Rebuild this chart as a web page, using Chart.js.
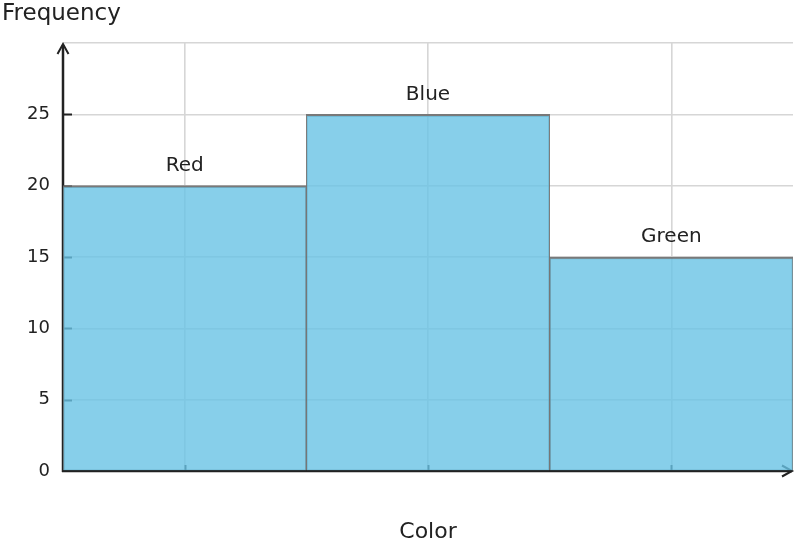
<!DOCTYPE html>
<html>
<head>
<meta charset="utf-8">
<script src="https://cdn.jsdelivr.net/npm/chart.js@4"></script>
<style>
html,body{margin:0;padding:0;background:#fff;}
#wrap{width:796px;height:548px;position:relative;}
</style>
</head>
<body>
<div id="wrap"><canvas id="c"></canvas></div>
<script>
const categories = ["Red", "Blue", "Green"];
const frequencies = [20, 25, 15];
const yTickValues = [0, 5, 10, 15, 20, 25];
const xTitle = "Color";
const yTitle = "Frequency";

const FONT = "'DejaVu Sans', sans-serif";
const INK = "#222222";

const decor = {
  id: 'decor',
  beforeDatasetsDraw(chart) {
    const {ctx, chartArea: a, scales: {x, y}} = chart;
    ctx.save();
    ctx.strokeStyle = INK;
    ctx.fillStyle = INK;
    ctx.lineWidth = 2;
    yTickValues.forEach(v => {
      if (v === 0) return;
      const py = Math.round(y.getPixelForValue(v)) + 0.5;
      ctx.beginPath(); ctx.moveTo(a.left, py); ctx.lineTo(a.left + 9, py); ctx.stroke();
    });
    categories.forEach((c, i) => {
      const px = Math.round(x.getPixelForValue(i)) + 0.5;
      ctx.beginPath(); ctx.moveTo(px, a.bottom); ctx.lineTo(px, a.bottom - 6); ctx.stroke();
    });
    ctx.lineWidth = 2.5;
    ctx.beginPath();
    ctx.moveTo(a.left, a.bottom + 1); ctx.lineTo(a.left, a.top + 2);
    ctx.moveTo(a.left - 1, a.bottom); ctx.lineTo(a.right - 1, a.bottom);
    ctx.stroke();
    ctx.lineWidth = 2;
    ctx.lineJoin = 'miter';
    ctx.beginPath();
    ctx.moveTo(a.left - 5.5, a.top + 11); ctx.lineTo(a.left, a.top + 1); ctx.lineTo(a.left + 5.5, a.top + 11);
    ctx.moveTo(a.right - 11, a.bottom - 5.5); ctx.lineTo(a.right - 1, a.bottom); ctx.lineTo(a.right - 11, a.bottom + 5.5);
    ctx.stroke();
    ctx.restore();
  },
  afterDatasetsDraw(chart) {
    const {ctx, chartArea: a} = chart;
    const meta = chart.getDatasetMeta(0);
    ctx.save();
    ctx.fillStyle = INK;
    ctx.font = "20px " + FONT;
    ctx.textAlign = 'center';
    ctx.textBaseline = 'middle';
    meta.data.forEach((bar, i) => {
      ctx.fillText(categories[i], bar.x, bar.y - 20);
    });
    ctx.font = "22px " + FONT;
    ctx.fillText(xTitle, (a.left + a.right) / 2, 532);
    ctx.font = "23px " + FONT;
    ctx.textAlign = 'left';
    ctx.fillText(yTitle, 2, 14);
    ctx.restore();
  }
};

new Chart(document.getElementById('c'), {
  type: 'bar',
  data: {
    labels: categories,
    datasets: [{
      data: frequencies,
      backgroundColor: 'rgba(105,195,229,0.8)',
      borderColor: 'rgba(110,110,110,0.9)',
      borderWidth: {top: 2, left: 1, right: 1, bottom: 0},
      borderSkipped: 'bottom',
      barPercentage: 1,
      categoryPercentage: 1
    }]
  },
  options: {
    responsive: true,
    maintainAspectRatio: false,
    animation: false,
    events: [],
    layout: {padding: {top: 43, right: 3, left: 0, bottom: 0}},
    plugins: {legend: {display: false}, tooltip: {enabled: false}, title: {display: false}},
    scales: {
      x: {
        type: 'category',
        offset: true,
        grid: {display: true, offset: false, color: '#d6d6d6', lineWidth: 1.6, drawTicks: false},
        border: {display: false},
        ticks: {display: false},
        afterFit(s) { s.height = 77; }
      },
      y: {
        min: 0, max: 30,
        grid: {color: '#d6d6d6', lineWidth: 1.6, drawTicks: false},
        border: {display: false},
        ticks: {
          stepSize: 5,
          padding: 13,
          color: INK,
          font: {family: FONT, size: 18},
          callback: v => yTickValues.includes(v) ? String(v) : ''
        },
        afterFit(s) { s.width = 63; }
      }
    }
  },
  plugins: [decor]
});
</script>
</body>
</html>
